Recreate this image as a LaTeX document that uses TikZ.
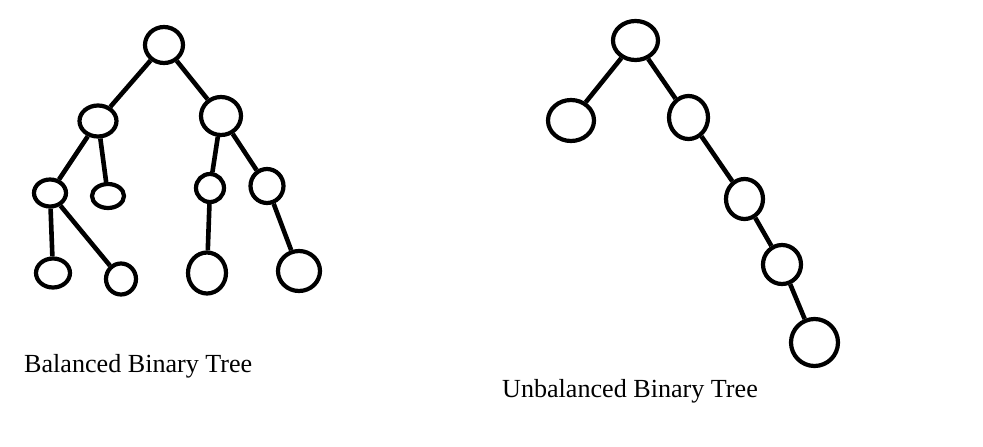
\documentclass[tikz,border=0pt]{standalone}
\usepackage{fontspec}
\setmainfont{Liberation Serif}
\usetikzlibrary{shapes.geometric}
\begin{document}
\begin{tikzpicture}[x=1pt,y=-1pt,
  tn/.style={ellipse,draw=black,line width=4.2pt,inner sep=0pt},
  edge/.style={draw=black,line width=4.6pt},
  lbl/.style={font=\fontsize{26.1}{30}\selectfont,anchor=base west,inner sep=0pt,text=black}]
\useasboundingbox[fill=white] (0,0) rectangle (983,447);
% balanced tree
\node[tn,minimum width=38pt,minimum height=36pt] (a0) at (164,45) {};
\node[tn,minimum width=37pt,minimum height=31pt] (a1) at (98,121) {};
\node[tn,minimum width=40pt,minimum height=38pt] (a2) at (221,116) {};
\node[tn,minimum width=32pt,minimum height=27pt] (a3) at (50,193) {};
\node[tn,minimum width=32pt,minimum height=24pt] (a4) at (108,196) {};
\node[tn,minimum width=28pt,minimum height=28pt] (a5) at (210,188) {};
\node[tn,minimum width=33pt,minimum height=34pt] (a6) at (267,186) {};
\node[tn,minimum width=34pt,minimum height=29pt] (a7) at (53,273) {};
\node[tn,minimum width=30pt,minimum height=31pt] (a8) at (121,279) {};
\node[tn,minimum width=38pt,minimum height=41pt] (a9) at (207,273) {};
\node[tn,minimum width=42pt,minimum height=40pt] (a10) at (299,271) {};
\draw[edge] (a0) -- (a1);
\draw[edge] (a0) -- (a2);
\draw[edge] (a1) -- (a3);
\draw[edge] (a1) -- (a4);
\draw[edge] (a2) -- (a5);
\draw[edge] (a2) -- (a6);
\draw[edge] (a3) -- (a7);
\draw[edge] (a3) -- (a8);
\draw[edge] (a5) -- (a9);
\draw[edge] (a6) -- (a10);
% unbalanced tree
\node[tn,minimum width=45pt,minimum height=39pt] (b0) at (635.5,40.5) {};
\node[tn,minimum width=46pt,minimum height=41pt] (b1) at (571,120.5) {};
\node[tn,minimum width=39pt,minimum height=43pt] (b2) at (688.5,117.5) {};
\node[tn,minimum width=37pt,minimum height=40pt] (b3) at (744.5,199) {};
\node[tn,minimum width=38pt,minimum height=39pt] (b4) at (782,264.5) {};
\node[tn,minimum width=47pt,minimum height=47pt] (b5) at (814.5,342.5) {};
\draw[edge] (b0) -- (b1);
\draw[edge] (b0) -- (b2);
\draw[edge] (b2) -- (b3);
\draw[edge] (b3) -- (b4);
\draw[edge] (b4) -- (b5);
% labels
\node[lbl] (t1) at (24,372) {Balanced Binary Tree};
\node[lbl] (t2) at (502,397) {Unbalanced Binary Tree};
\end{tikzpicture}
\end{document}
